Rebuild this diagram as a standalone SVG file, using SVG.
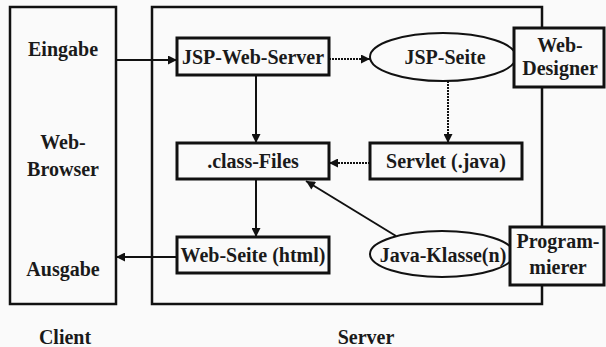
<svg xmlns="http://www.w3.org/2000/svg" width="606" height="347" viewBox="0 0 606 347">
<defs>
<marker id="ah" viewBox="0 0 10 10" refX="10" refY="5" markerWidth="5" markerHeight="4.5" orient="auto" markerUnits="strokeWidth">
<path d="M0,0 L10,5 L0,10 z" fill="#111"/>
</marker>
<style>
text{font-family:"Liberation Serif","DejaVu Serif","Noto Serif",Times,serif;font-weight:bold;font-size:20px;fill:#1a1a1a;text-anchor:middle}
.box{fill:#fafafa;stroke:#111;stroke-width:3}
.frame{fill:none;stroke:#111;stroke-width:2.5}
.ell{fill:#fafafa;stroke:#111;stroke-width:2}
.c{fill:none;stroke:#111;stroke-width:2;marker-end:url(#ah)}
.d{stroke-dasharray:2 1}
</style>
</defs>
<rect width="606" height="347" fill="#fafafa"/>
<g id="client">
<rect class="frame" x="10" y="7" width="106" height="297" stroke-width="3"/>
<text x="63" y="56">Eingabe</text>
<text x="63" y="149">Web-</text>
<text x="63" y="176">Browser</text>
<text x="63" y="276">Ausgabe</text>
<text x="65" y="344">Client</text>
</g>
<g id="server">
<rect class="frame" x="152" y="7" width="390" height="297"/>
<text x="366" y="344">Server</text>
</g>
<g id="connectors">
<line class="c" x1="116" y1="60" x2="177" y2="60"/>
<line class="c d" x1="329" y1="59" x2="370" y2="59"/>
<line class="c d" x1="448" y1="81" x2="448" y2="143"/>
<line class="c d" x1="370" y1="163" x2="329" y2="163"/>
<line class="c" x1="256" y1="75" x2="256" y2="143"/>
<line class="c" x1="256" y1="179" x2="256" y2="237"/>
<line class="c" x1="177" y1="257" x2="116" y2="257"/>
<line class="c" x1="396" y1="236" x2="306" y2="181"/>
</g>
<g id="jsp-web-server">
<rect class="box" x="177" y="38" width="152" height="37"/>
<text x="253" y="64">JSP-Web-Server</text>
</g>
<g id="jsp-seite">
<ellipse class="ell" cx="443" cy="57" rx="73" ry="24"/>
<text x="445" y="64">JSP-Seite</text>
</g>
<g id="web-designer">
<rect class="box" x="514" y="28" width="90" height="59"/>
<text x="560" y="52">Web-</text>
<text x="560" y="75">Designer</text>
</g>
<g id="class-files">
<rect class="box" x="177" y="143" width="152" height="36"/>
<text x="253" y="168">.class-Files</text>
</g>
<g id="servlet">
<rect class="box" x="370" y="143" width="152" height="36"/>
<text x="446" y="168">Servlet (.java)</text>
</g>
<g id="web-seite">
<rect class="box" x="177" y="237" width="152" height="36"/>
<text x="253" y="262">Web-Seite (html)</text>
</g>
<g id="java-klasse">
<ellipse class="ell" cx="442" cy="254" rx="72" ry="23"/>
<text x="443" y="262">Java-Klasse(n)</text>
</g>
<g id="programmierer">
<rect class="box" x="510" y="227" width="94" height="58"/>
<text x="558" y="248">Program-</text>
<text x="558" y="274">mierer</text>
</g>
</svg>
